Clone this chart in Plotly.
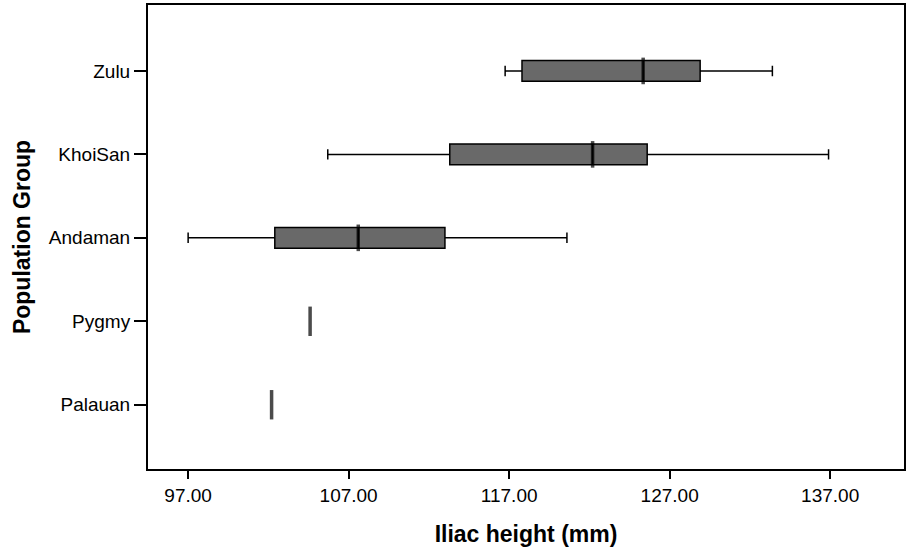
import plotly.graph_objects as go

categories = ["Palauan", "Pygmy", "Andaman", "KhoiSan", "Zulu"]
box_groups = ["Andaman", "KhoiSan", "Zulu"]
box_low = [97.0, 105.7, 116.75]
box_q1 = [102.4, 113.3, 117.8]
box_median = [107.6, 122.2, 125.35]
box_q3 = [113.0, 125.6, 128.9]
box_high = [120.6, 136.9, 133.4]
median_groups = ["Palauan", "Pygmy", "Andaman", "KhoiSan", "Zulu"]
median_values = [102.2, 104.6, 107.6, 122.2, 125.35]
x_ticks = [97, 107, 117, 127, 137]
x_tick_labels = ["97.00", "107.00", "117.00", "127.00", "137.00"]

fig = go.Figure()
fig.add_trace(go.Box(
    y=box_groups, q1=box_q1, median=box_median, q3=box_q3,
    lowerfence=box_low, upperfence=box_high,
    orientation="h", width=0.25, whiskerwidth=0.5,
    fillcolor="#696969", line=dict(color="black", width=1.5),
    boxpoints=False, showlegend=False, hoverinfo="skip",
))
fig.add_trace(go.Scatter(
    x=median_values, y=median_groups, mode="markers",
    marker=dict(symbol="line-ns", size=[21, 21, 19, 19, 19],
                line=dict(color="black", width=3.5)),
    showlegend=False, hoverinfo="skip",
))

fig.update_layout(
    width=909, height=547,
    margin=dict(l=148, r=3, t=5, b=78),
    plot_bgcolor="white", paper_bgcolor="white",
    font=dict(family="Liberation Sans, Arial, sans-serif", color="black", size=19),
)
fig.update_xaxes(
    range=[94.5, 141.6], tickvals=x_ticks, ticktext=x_tick_labels,
    ticks="outside", ticklen=8, tickwidth=2, tickcolor="black",
    showline=True, linecolor="black", linewidth=2, mirror=True,
    showgrid=False, zeroline=False,
    tickfont=dict(size=19),
    title=dict(text="<b>Iliac height (mm)</b>", font=dict(size=23), standoff=21),
)
fig.update_yaxes(
    type="category", categoryorder="array", categoryarray=categories,
    range=[-0.77, 4.79],
    ticks="outside", ticklen=12, tickwidth=2, tickcolor="black",
    showline=True, linecolor="black", linewidth=2, mirror=True,
    showgrid=False, zeroline=False,
    tickfont=dict(size=19),
    title=dict(text="<b>Population Group</b>", font=dict(size=23), standoff=12),
)

fig.write_html("out.html")
